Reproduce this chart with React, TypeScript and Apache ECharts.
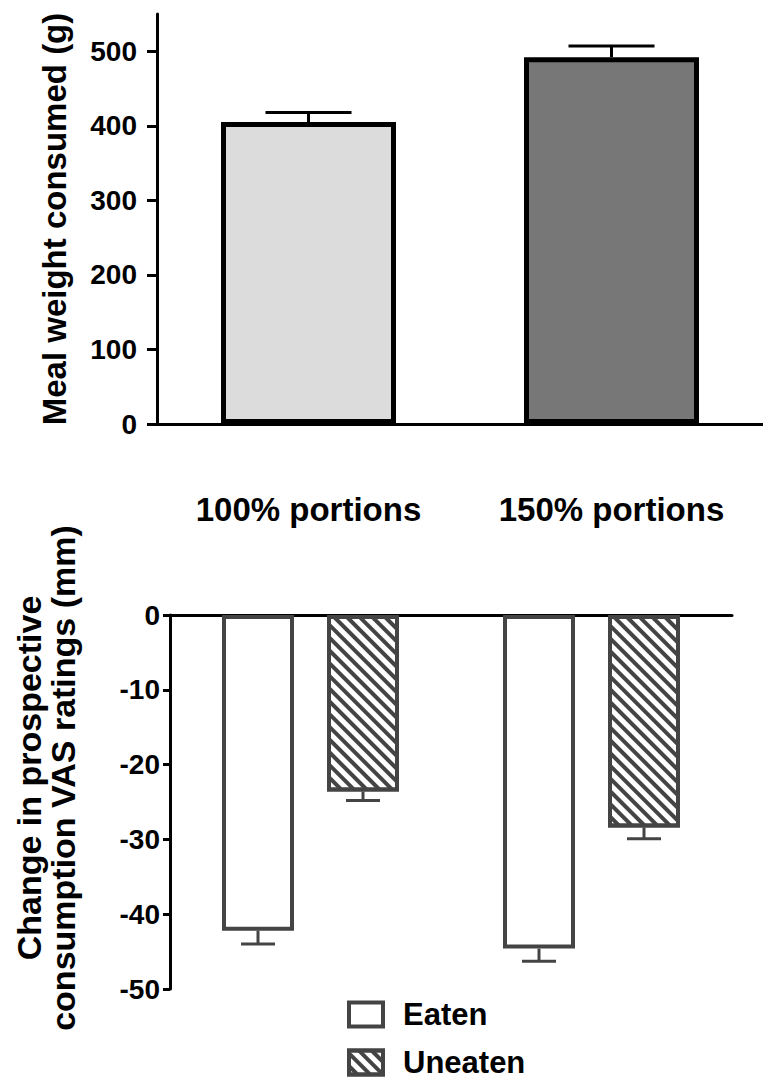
import React, { useEffect, useRef } from 'react';
import * as echarts from 'echarts';

// ---- data ----
const categories = ['100% portions', '150% portions'];
const mealWeight = [405, 492];
const mealWeightErr = [13, 15];
const topTicks = [0, 100, 200, 300, 400, 500];

const seriesNames = ['Eaten', 'Uneaten'];
const eaten = [-42.2, -44.6];
const eatenErr = [1.8, 1.7];
const uneaten = [-23.6, -28.4];
const uneatenErr = [1.2, 1.5];

const FONT = "'Liberation Sans', Arial, Helvetica, sans-serif";
const BW2 = 72;
const GAP2 = 33;

function errorBar(offset: number, capW: number, color: string, lw: number, dir: number) {
  return (params: any, api: any) => {
    const i = api.value(0);
    const v = api.value(1);
    const e = api.value(2);
    const p0 = api.coord([i, v]);
    const p1 = api.coord([i, v + dir * e]);
    const x = p0[0] + offset;
    return {
      type: 'group',
      children: [
        { type: 'line', shape: { x1: x, y1: p0[1], x2: x, y2: p1[1] }, style: { stroke: color, lineWidth: lw } },
        { type: 'line', shape: { x1: x - capW / 2, y1: p1[1], x2: x + capW / 2, y2: p1[1] }, style: { stroke: color, lineWidth: lw } },
      ],
    };
  };
}

export default function App() {
  const ref = useRef<HTMLDivElement>(null);
  useEffect(() => {
    document.body.style.margin = '0';
    const chart = echarts.init(ref.current!, null, { renderer: 'svg' });
    const txt = { fontFamily: FONT, fontWeight: 'bold' as const, color: '#000' };
    const legendBase = {
      orient: 'vertical', left: 347, padding: 0,
      itemWidth: 34, itemHeight: 24, selectedMode: false, icon: 'rect',
      itemStyle: { borderWidth: 4 },
      textStyle: { ...txt, fontSize: 31, lineHeight: 28, padding: [0, 0, 0, 15] },
    };
    chart.setOption({
      animation: false,
      backgroundColor: '#fff',
      grid: [
        { left: 157, right: 0, top: 14, height: 410 },
        { left: 170, right: 31, top: 615, height: 374 },
      ],
      xAxis: [
        {
          type: 'category', gridIndex: 0, data: categories,
          axisLine: { lineStyle: { color: '#000', width: 3 } },
          axisTick: { alignWithLabel: true, length: 12, lineStyle: { color: '#000', width: 3 } },
          axisLabel: { ...txt, fontSize: 33, margin: 69 },
        },
        {
          type: 'category', gridIndex: 1, data: categories, position: 'top',
          axisLine: { onZero: false, lineStyle: { color: '#000', width: 3 } },
          axisTick: { show: false },
          axisLabel: { show: false },
        },
      ],
      yAxis: [
        {
          type: 'value', gridIndex: 0, min: 0, max: 550, interval: 100,
          name: 'Meal weight consumed (g)', nameLocation: 'middle', nameGap: 86,
          nameTextStyle: { ...txt, fontSize: 33 },
          splitLine: { show: false },
          axisLine: { show: true, lineStyle: { color: '#000', width: 3 } },
          axisTick: { show: true, length: 10, customValues: topTicks, lineStyle: { color: '#000', width: 3 } },
          axisLabel: { ...txt, fontSize: 28, margin: 20, customValues: topTicks, formatter: (v: number) => (v > 500 ? '' : String(v)) },
        },
        {
          type: 'value', gridIndex: 1, min: -50, max: 0, interval: 10,
          splitLine: { show: false },
          axisLine: { show: true, lineStyle: { color: '#000', width: 3 } },
          axisTick: { show: true, length: 7, lineStyle: { color: '#000', width: 3 } },
          axisLabel: { ...txt, fontSize: 28, margin: 10 },
        },
      ],
      legend: [
        { ...legendBase, data: [seriesNames[0]], top: 999 },
        { ...legendBase, data: [seriesNames[1]], top: 1047 },
      ],
      graphic: [
        {
          type: 'text', x: 46, y: 778, rotation: Math.PI / 2,
          style: {
            text: 'Change in prospective\nconsumption VAS ratings (mm)',
            fontFamily: FONT, fontWeight: 'bold', fontSize: 34, lineHeight: 34,
            fill: '#000', align: 'center', verticalAlign: 'middle',
          },
        },
      ],
      series: [
        {
          type: 'bar', xAxisIndex: 0, yAxisIndex: 0, barWidth: 175,
          data: mealWeight.map((v, i) => ({
            value: v,
            itemStyle: { color: i === 0 ? '#dcdcdc' : '#777777', borderColor: '#000', borderWidth: 5 },
          })),
        },
        {
          type: 'custom', xAxisIndex: 0, yAxisIndex: 0, z: 3,
          renderItem: errorBar(0, 86, '#000', 3, 1),
          data: mealWeight.map((v, i) => [i, v, mealWeightErr[i]]),
          encode: { x: 0, y: 1 },
        },
        {
          name: 'Eaten', type: 'bar', xAxisIndex: 1, yAxisIndex: 1, barWidth: BW2, barGap: `${(GAP2 / BW2) * 100}%`,
          itemStyle: { color: '#fff', borderColor: '#444', borderWidth: 4 },
          data: eaten,
        },
        {
          name: 'Uneaten', type: 'bar', xAxisIndex: 1, yAxisIndex: 1, barWidth: BW2,
          itemStyle: {
            color: '#fff', borderColor: '#444', borderWidth: 4,
            decal: { symbol: 'rect', symbolSize: 1, dashArrayX: [1, 0], dashArrayY: [4, 5], rotation: Math.PI / 4, color: '#444' },
          },
          data: uneaten,
        },
        {
          type: 'custom', xAxisIndex: 1, yAxisIndex: 1, z: 3,
          renderItem: errorBar(-(BW2 + GAP2) / 2, 34, '#444', 3, -1),
          data: eaten.map((v, i) => [i, v, eatenErr[i]]),
          encode: { x: 0, y: 1 },
        },
        {
          type: 'custom', xAxisIndex: 1, yAxisIndex: 1, z: 3,
          renderItem: errorBar((BW2 + GAP2) / 2, 34, '#444', 3, -1),
          data: uneaten.map((v, i) => [i, v, uneatenErr[i]]),
          encode: { x: 0, y: 1 },
        },
      ],
    });
    return () => chart.dispose();
  }, []);
  return <div ref={ref} style={{ width: 763, height: 1079, position: 'absolute', left: 0, top: 0 }} />;
}
